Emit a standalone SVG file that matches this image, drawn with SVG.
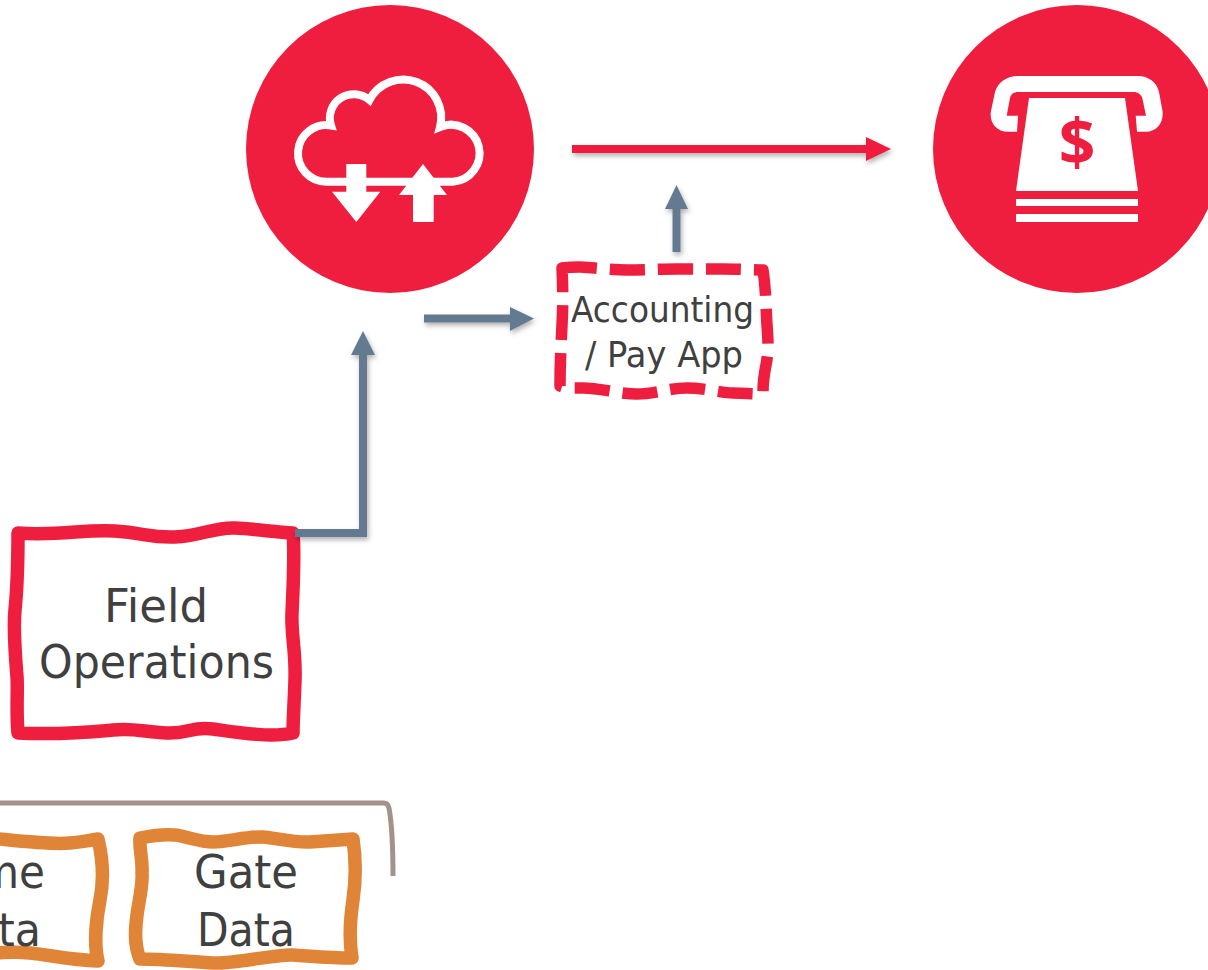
<svg xmlns="http://www.w3.org/2000/svg" width="1208" height="970" viewBox="0 0 1208 970">
<style>
.t{font-family:"DejaVu Sans","Noto Sans",sans-serif;fill:#404040}
.big{font-size:46.500px}
.mid{font-size:36px}
.box{fill:#fff;stroke-linejoin:round;stroke-linecap:round;stroke-width:13.500}
.red{stroke:#f01e3e}
.org{stroke:#e08538}
.w{fill:#fff}
.conn{fill:none;stroke:#647a90;stroke-width:8}
.hd{fill:#647a90}
</style>
<defs>
<filter id="sh" x="-30%" y="-30%" width="170%" height="170%"><feDropShadow dx="1.500" dy="3" stdDeviation="2.500" flood-color="#000" flood-opacity="0.3"/></filter>
</defs>
<g id="bracket"><path d="M-5,803 H384 Q388,803 389,808 Q393,830 393,876" fill="none" stroke="#a39289" stroke-width="5"/></g>
<g id="connectors">
<g filter="url(#sh)"><path d="M572,149 H868" fill="none" stroke="#f01e3e" stroke-width="8"/><path d="M866,137 L891,149 L866,161 Z" fill="#f01e3e"/></g>
<g filter="url(#sh)"><path class="conn" d="M424,318.500 H512"/><path class="hd" d="M510,307 L534,318.500 L510,331 Z"/></g>
<g filter="url(#sh)"><path class="conn" d="M676.500,252 V207"/><path class="hd" d="M665,209 L676.500,185 L688,209 Z"/></g>
</g>
<g id="cloud-node">
<circle cx="390" cy="149" r="144" fill="#f01e3e"/>
<path d="M326.700,181.700 A28.300,28.300 0 1 1 331,125.500 A24,24 0 0 1 369.500,100 A38,38 0 0 1 440,127 A28.500,28.500 0 1 1 453,181.700 Z" fill="none" stroke="#fff" stroke-width="8"/>
<path class="w" d="M346.300,164 H366.300 V191.700 H380.300 L356.300,222 L332,191.700 H346.300 Z"/>
<path class="w" d="M423,164 L447,195 H433.700 V222 H413 V195 H399 Z"/>
</g>
<g id="atm-node">
<circle cx="1077" cy="149" r="144" fill="#f01e3e"/>
<path class="w" d="M1017,131.700 H1008 C996,131.700 989,122 991,111 L995,92 C998,82 1007,76 1018,76 H1138 C1148,76 1157,82 1159,92 L1162.500,111 C1164,122 1157,131.700 1146,131.700 H1137 L1135.700,115.700 H1146 L1142.300,98 C1141,94 1137,92 1134,92 H1018 C1014,92 1011,94 1010,98 L1006.700,115.700 H1018 Z"/>
<path class="w" d="M1029,98 H1125 L1138,191 H1016 Z"/>
<rect class="w" x="1016" y="199" width="122" height="7"/>
<rect class="w" x="1016" y="214" width="122" height="8"/>
<text x="1077" y="165" font-family="'Open Sans','Noto Sans',sans-serif" font-size="64" font-weight="700" fill="#f01e3e" text-anchor="middle">$</text>
</g>
<g id="accounting-node">
<path d="M562,268 C570,267 575,267 580,267 S610,270 627,270 S660,269 677,269 S710,269 723,269 S755,270 763,270 C766,290 766,310 767,325 S769,350 766,365 S763,385 763,394 C750,394 745,393 733,393 S705,388 687,388 S655,394 637,394 S600,388 583,388 S565,388 560,386 C560,365 561,345 562,325 S563,290 562,268 Z" fill="#fff" stroke="#f01e3e" stroke-width="11.500" stroke-dasharray="35 13" stroke-linejoin="round"/>
<text class="t mid" x="571" y="322" textLength="183" lengthAdjust="spacingAndGlyphs">Accounting</text>
<text class="t mid" x="585" y="367" textLength="158" lengthAdjust="spacingAndGlyphs">/ Pay App</text>
</g>
<g id="field-node">
<path class="box red" d="M18,533 C60,536 85,529 115,531 S150,538 175,537 S215,527 235,528 S275,532 293,533 C295,555 293,590 292,613 S296,650 295,680 S293,720 293,733 C270,738 235,732 213,729 S190,734 167,733 S135,728 113,730 S60,735 18,733 C16,710 18,690 17,677 S13,630 15,610 S18,560 18,533 Z"/>
<text class="t big" x="104" y="622" textLength="104" lengthAdjust="spacingAndGlyphs">Field</text>
<text class="t big" x="39" y="678" textLength="235" lengthAdjust="spacingAndGlyphs">Operations</text>
</g>
<g id="field-connector" filter="url(#sh)"><path class="conn" d="M295,533 H363 V353"/><path class="hd" d="M351,355 L363,331 L375,355 Z"/></g>
<g id="left-data-node">
<path class="box org" d="M-10,838 C20,841 50,845 70,843 S90,840 98,839 C103,860 104,880 100,900 S94,945 98,961 C70,960 50,955 30,953 S5,953 -10,953"/>
<text class="t big" x="-22" y="888" textLength="67" lengthAdjust="spacingAndGlyphs">me</text>
<text class="t big" x="-2" y="946" textLength="43" lengthAdjust="spacingAndGlyphs">ta</text>
</g>
<g id="gate-node">
<path class="box org" d="M140,838 C155,835 165,834 175,835 S200,842 213,842 S250,836 263,837 S295,843 310,842 S340,840 353,839 C356,860 356,880 353,900 S349,940 352,958 C330,958 310,956 293,955 S235,964 213,963 S165,959 140,959 C134,945 135,930 137,915 S143,885 142,873 C143,860 139,850 140,838 Z"/>
<text class="t big" x="194" y="888" textLength="104" lengthAdjust="spacingAndGlyphs">Gate</text>
<text class="t big" x="197" y="946" textLength="98" lengthAdjust="spacingAndGlyphs">Data</text>
</g>
</svg>
